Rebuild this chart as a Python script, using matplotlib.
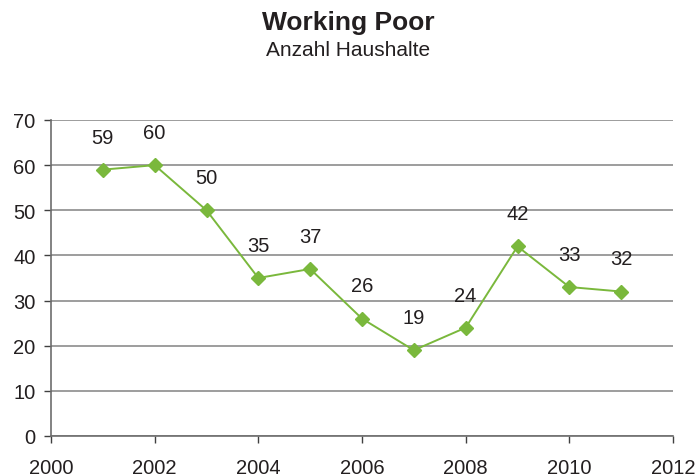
import matplotlib
matplotlib.use("Agg")
import matplotlib.pyplot as plt

years = [2001, 2002, 2003, 2004, 2005, 2006, 2007, 2008, 2009, 2010, 2011]
values = [59, 60, 50, 35, 37, 26, 19, 24, 42, 33, 32]
x_ticks = [2000, 2002, 2004, 2006, 2008, 2010, 2012]
y_ticks = [0, 10, 20, 30, 40, 50, 60, 70]

plt.rcParams['font.family'] = ['Liberation Sans', 'DejaVu Sans']
txt = '#231f20'
green = '#7ab83c'

fig = plt.figure(figsize=(6.96, 4.77), dpi=100)
ax = fig.add_axes([51/696, 40/477, (673-51)/696, (437-121)/477])

ax.plot(years, values, color=green, lw=1.4, marker='D', ms=7.5, mec=green, mfc=green, zorder=3)
for x, v in zip(years, values):
    ax.annotate(str(v), (x, v), xytext=(0, 23.5), textcoords='offset points',
                ha='center', va='center', fontsize=14.5, color=txt)

ax.set_xlim(2000, 2012)
ax.set_ylim(0, 70)
ax.set_xticks(x_ticks)
ax.set_yticks(y_ticks)
ax.set_xticklabels([str(t) for t in x_ticks])
ax.set_yticklabels([str(t) for t in y_ticks])
ax.yaxis.grid(True, color='#8c8c8c', lw=1.2)
ax.set_axisbelow(True)
for s in ['top', 'right']:
    ax.spines[s].set_visible(False)
ax.spines['left'].set_color('#6d6d6d')
ax.spines['bottom'].set_color('#6d6d6d')
ax.spines['left'].set_linewidth(1.2)
ax.spines['bottom'].set_linewidth(1.2)
ax.tick_params(axis='both', colors='#404040', labelcolor=txt, labelsize=14.5, length=5, width=1, direction='out')
ax.tick_params(axis='x', pad=11)
ax.tick_params(axis='y', pad=6)

fig.text(0.5, 1 - 23/477, 'Working Poor', ha='center', va='center', fontsize=19, fontweight='bold', color=txt)
fig.text(0.5, 1 - 50/477, 'Anzahl Haushalte', ha='center', va='center', fontsize=15, color=txt)

fig.savefig('out.png', dpi=100)
